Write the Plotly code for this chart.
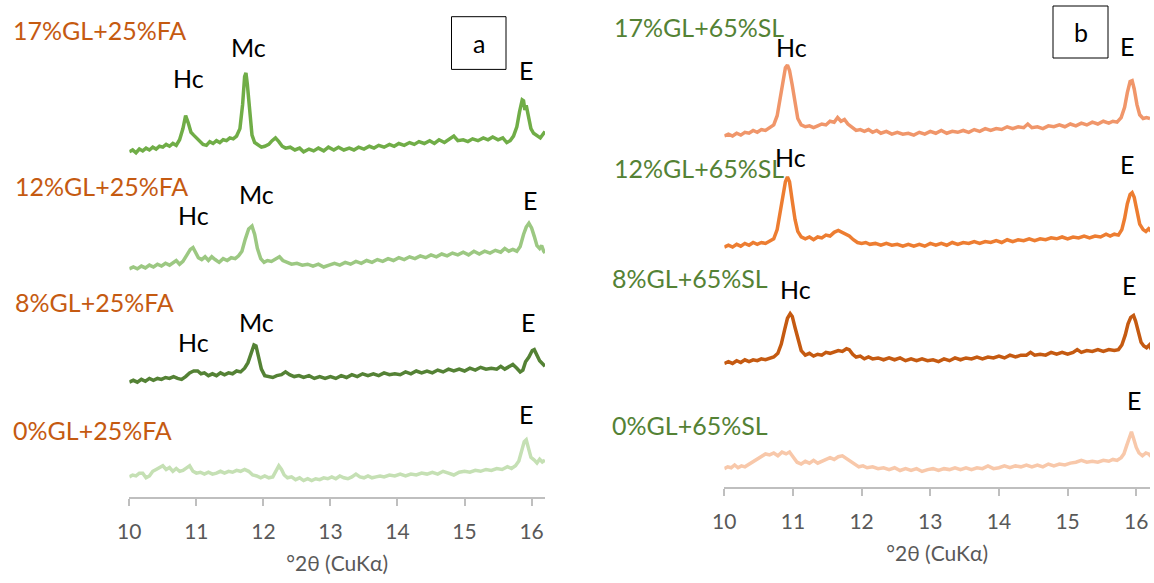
import plotly.graph_objects as go

# ---------------- Panel a (GL + 25% FA) ----------------
a1_x = [10.00,10.05,10.10,10.15,10.20,10.25,10.30,10.35,10.40,10.45,10.50,10.55,10.60,10.65,10.70,10.75,10.80,10.84,10.88,10.92,10.96,11.00,11.05,11.10,11.15,11.20,11.25,11.30,11.35,11.40,11.45,11.50,11.55,11.60,11.65,11.69,11.72,11.74,11.76,11.79,11.83,11.87,11.92,11.97,12.02,12.08,12.13,12.18,12.23,12.28,12.33,12.40,12.47,12.54,12.60,12.68,12.75,12.82,12.90,12.97,13.05,13.12,13.20,13.28,13.35,13.42,13.50,13.58,13.65,13.72,13.80,13.88,13.95,14.02,14.10,14.18,14.25,14.32,14.40,14.48,14.55,14.62,14.70,14.78,14.84,14.90,14.98,15.05,15.12,15.20,15.28,15.35,15.42,15.50,15.57,15.63,15.68,15.73,15.78,15.82,15.86,15.88,15.90,15.92,15.95,15.99,16.03,16.08,16.13,16.17,16.20]
a1_y = [334,336,333,337,335,338,336,339,337,340,339,342,340,343,341,347,359,373,365,355,352,349,346,342,341,345,343,346,344,347,346,349,348,351,359,385,415,419,407,382,352,344,341,339,340,342,346,349,345,340,338,339,336,338,334,337,335,338,335,339,336,339,336,338,336,339,337,340,338,341,339,342,340,343,341,344,342,345,343,346,343,347,344,348,351,346,347,345,348,346,349,347,350,347,349,344,346,351,361,377,390,389,379,384,375,359,354,352,349,353,356]

a2_x = [10.00,10.06,10.12,10.18,10.24,10.30,10.36,10.42,10.48,10.54,10.60,10.66,10.70,10.75,10.80,10.86,10.91,10.95,10.99,11.03,11.08,11.13,11.18,11.23,11.28,11.34,11.40,11.46,11.52,11.58,11.63,11.68,11.73,11.78,11.83,11.87,11.91,11.96,12.01,12.06,12.12,12.18,12.24,12.29,12.35,12.42,12.50,12.58,12.66,12.74,12.82,12.90,12.98,13.06,13.14,13.22,13.30,13.38,13.46,13.54,13.62,13.70,13.78,13.86,13.94,14.02,14.10,14.18,14.26,14.34,14.42,14.50,14.58,14.66,14.74,14.82,14.90,14.98,15.06,15.14,15.22,15.30,15.38,15.46,15.54,15.60,15.66,15.72,15.78,15.83,15.88,15.92,15.96,16.00,16.04,16.08,16.12,16.15,16.18,16.20]
a2_y = [220,222,220,223,221,224,222,225,223,226,224,227,229,225,228,235,241,243,237,232,230,233,229,233,230,227,231,229,232,231,234,239,252,263,266,257,242,231,227,229,228,231,233,229,227,225,226,224,225,223,225,222,224,226,224,227,225,228,226,229,227,230,228,231,229,232,230,233,231,234,232,235,233,236,234,237,235,238,235,239,236,239,237,240,238,242,239,241,239,244,257,265,269,264,255,245,242,245,239,237]

a3_x = [10.00,10.06,10.12,10.18,10.24,10.30,10.36,10.42,10.48,10.54,10.60,10.66,10.72,10.78,10.84,10.90,10.96,11.02,11.07,11.12,11.18,11.24,11.30,11.36,11.42,11.48,11.54,11.60,11.66,11.72,11.77,11.82,11.86,11.89,11.93,11.97,12.02,12.08,12.14,12.20,12.27,12.33,12.39,12.46,12.53,12.60,12.68,12.76,12.84,12.92,13.00,13.08,13.16,13.24,13.32,13.40,13.48,13.56,13.64,13.72,13.80,13.88,13.96,14.04,14.12,14.20,14.28,14.36,14.44,14.52,14.60,14.68,14.76,14.84,14.92,15.00,15.08,15.16,15.24,15.32,15.40,15.48,15.54,15.60,15.66,15.72,15.78,15.83,15.87,15.91,15.96,16.01,16.04,16.08,16.12,16.16,16.20]
a3_y = [108,110,108,111,109,112,110,112,111,113,112,114,112,111,114,118,120,120,117,118,115,117,115,118,116,118,117,120,119,123,129,139,148,147,135,122,115,114,113,115,116,119,116,114,115,113,115,112,114,112,114,112,115,113,116,114,117,115,117,115,118,116,117,116,119,117,120,118,120,118,121,119,122,120,122,120,123,121,124,122,123,122,125,122,124,127,123,119,121,130,135,142,143,137,131,128,125]

a4_x = [10.00,10.05,10.10,10.15,10.20,10.25,10.30,10.35,10.40,10.45,10.50,10.55,10.60,10.65,10.70,10.75,10.80,10.86,10.90,10.95,11.00,11.06,11.12,11.18,11.24,11.30,11.36,11.42,11.48,11.54,11.60,11.66,11.72,11.78,11.84,11.90,11.96,12.02,12.08,12.14,12.19,12.23,12.27,12.31,12.36,12.42,12.48,12.54,12.60,12.66,12.72,12.78,12.84,12.90,12.96,13.02,13.08,13.14,13.20,13.26,13.32,13.38,13.44,13.50,13.56,13.62,13.68,13.74,13.80,13.88,13.96,14.04,14.12,14.20,14.28,14.36,14.44,14.52,14.60,14.68,14.76,14.84,14.92,15.00,15.08,15.16,15.24,15.32,15.40,15.48,15.56,15.64,15.70,15.76,15.81,15.85,15.89,15.92,15.95,15.99,16.04,16.08,16.12,16.16,16.20]
a4_y = [15,17,16,19,19,14,16,21,23,25,27,23,25,21,24,21,22,25,27,21,19,20,18,20,18,19,21,19,21,20,22,21,23,21,17,16,14,16,14,15,22,27,23,17,14,15,12,14,11,13,11,13,12,14,13,15,13,16,14,13,15,18,15,14,16,14,15,16,15,17,16,18,16,18,17,19,18,20,18,21,19,17,20,21,20,22,21,23,22,24,23,26,24,27,32,42,53,55,47,36,33,30,34,31,33]

# ---------------- Panel b (GL + 65% SL) ----------------
b1_x = [10.00,10.06,10.12,10.18,10.24,10.30,10.36,10.42,10.48,10.54,10.60,10.66,10.72,10.77,10.81,10.85,10.89,10.92,10.95,10.99,11.03,11.07,11.12,11.18,11.24,11.30,11.36,11.42,11.48,11.54,11.60,11.65,11.70,11.75,11.80,11.86,11.92,11.98,12.04,12.10,12.16,12.22,12.28,12.36,12.44,12.52,12.60,12.68,12.76,12.84,12.92,13.00,13.08,13.16,13.24,13.32,13.40,13.48,13.56,13.64,13.72,13.80,13.88,13.96,14.04,14.12,14.20,14.28,14.36,14.42,14.48,14.56,14.64,14.72,14.80,14.88,14.96,15.04,15.12,15.20,15.28,15.36,15.44,15.52,15.60,15.66,15.72,15.78,15.83,15.87,15.91,15.94,15.97,16.01,16.05,16.10,16.15,16.20]
b1_y = [340,342,340,343,341,344,343,346,344,347,346,349,352,362,379,399,414,417,411,395,375,359,352,350,351,349,351,353,352,356,355,360,356,358,353,349,346,347,345,347,344,346,343,345,342,344,342,343,341,344,342,345,343,346,343,345,344,346,344,347,345,348,346,348,347,350,348,350,349,353,349,350,348,351,350,352,350,353,351,354,352,355,353,356,354,356,355,360,371,387,399,400,391,374,363,359,360,359]

b2_x = [10.00,10.06,10.12,10.18,10.24,10.30,10.36,10.42,10.48,10.54,10.60,10.66,10.72,10.77,10.81,10.85,10.89,10.92,10.95,10.99,11.03,11.07,11.12,11.18,11.24,11.30,11.36,11.42,11.48,11.54,11.60,11.66,11.71,11.76,11.82,11.88,11.94,12.00,12.06,12.12,12.20,12.28,12.36,12.44,12.52,12.60,12.68,12.76,12.84,12.92,13.00,13.08,13.16,13.24,13.32,13.40,13.48,13.56,13.64,13.72,13.80,13.88,13.96,14.04,14.12,14.20,14.28,14.36,14.44,14.52,14.60,14.68,14.76,14.84,14.92,15.00,15.08,15.16,15.24,15.32,15.40,15.48,15.56,15.62,15.68,15.74,15.79,15.83,15.87,15.91,15.94,15.97,16.01,16.05,16.10,16.14,16.18,16.22]
b2_y = [232,234,232,235,233,236,234,237,235,237,236,238,241,251,269,289,303,308,303,282,262,249,243,241,243,240,243,242,245,244,248,250,248,247,244,240,237,236,237,235,236,234,236,234,235,233,235,233,235,233,236,234,236,234,237,235,237,236,238,236,238,237,239,237,240,238,240,239,241,239,241,240,242,241,243,241,243,242,244,242,244,243,246,244,246,245,251,263,279,289,291,286,271,257,251,249,252,249]

b3_x = [10.00,10.06,10.12,10.18,10.24,10.30,10.36,10.42,10.48,10.54,10.60,10.66,10.72,10.78,10.83,10.88,10.92,10.96,10.99,11.03,11.07,11.12,11.18,11.24,11.30,11.36,11.42,11.48,11.54,11.60,11.66,11.72,11.78,11.82,11.87,11.92,11.98,12.04,12.10,12.16,12.24,12.32,12.40,12.48,12.56,12.64,12.72,12.80,12.88,12.96,13.04,13.12,13.20,13.28,13.36,13.44,13.52,13.60,13.68,13.76,13.84,13.92,14.00,14.08,14.16,14.24,14.32,14.40,14.46,14.52,14.60,14.68,14.76,14.84,14.92,15.00,15.08,15.14,15.20,15.28,15.36,15.44,15.52,15.60,15.68,15.74,15.79,15.84,15.88,15.92,15.96,15.99,16.03,16.07,16.11,16.15,16.19,16.22]
b3_y = [116,118,116,119,117,120,118,120,119,121,120,122,123,127,137,153,165,170,167,155,142,130,125,127,124,126,125,128,127,129,130,129,132,131,126,123,124,121,123,121,122,120,122,120,122,119,121,119,121,119,120,118,121,119,122,120,122,121,123,121,123,122,124,122,125,123,125,125,128,125,126,125,128,126,128,126,128,131,128,130,129,131,129,131,130,131,136,147,159,166,168,162,151,139,135,133,136,131]

b4_x = [10.00,10.05,10.10,10.15,10.20,10.25,10.30,10.36,10.42,10.48,10.54,10.60,10.66,10.72,10.78,10.84,10.90,10.95,11.00,11.06,11.12,11.18,11.24,11.30,11.36,11.42,11.48,11.54,11.60,11.66,11.72,11.78,11.84,11.90,11.96,12.02,12.08,12.16,12.24,12.32,12.40,12.48,12.56,12.64,12.72,12.80,12.88,12.96,13.04,13.12,13.20,13.28,13.36,13.44,13.52,13.60,13.68,13.76,13.84,13.92,14.00,14.08,14.16,14.24,14.32,14.40,14.48,14.56,14.64,14.72,14.80,14.88,14.96,15.04,15.12,15.20,15.28,15.36,15.44,15.52,15.60,15.66,15.72,15.78,15.82,15.86,15.90,15.93,15.96,16.00,16.04,16.09,16.14,16.18,16.22]
b4_y = [12,14,13,16,13,15,14,17,19,22,25,28,27,29,26,30,28,30,25,19,17,20,18,21,18,20,21,24,22,25,26,23,20,16,14,15,13,14,12,13,11,13,10,12,10,12,9,11,12,10,12,11,13,11,13,11,13,12,15,12,13,15,13,15,14,16,14,16,14,17,15,17,16,18,19,21,19,20,19,21,20,22,21,24,28,37,47,52,45,35,29,26,29,28,25]

# vertical stacking offsets of each pattern (a.u.)
a_offsets = [38, 26, 16, 7]
b_offsets = [41, 28.5, 18.3, 8.2]

a_names = ["17%GL+25%FA", "12%GL+25%FA", "8%GL+25%FA", "0%GL+25%FA"]
b_names = ["17%GL+65%SL", "12%GL+65%SL", "8%GL+65%SL", "0%GL+65%SL"]
a_colors = ["#70AD47", "#9CC882", "#548235", "#C5E0B4"]
b_colors = ["#F0966A", "#ED7D31", "#C55A11", "#F8C8AA"]

# peak labels: (text, x, y, pattern index)
a_peaks = [("Hc", 10.88, 414, 0), ("Mc", 11.78, 447, 0), ("E", 15.91, 422, 0),
           ("Hc", 10.96, 278, 1), ("Mc", 11.90, 301, 1), ("E", 15.97, 294, 1),
           ("Hc", 10.96, 151, 2), ("Mc", 11.90, 173, 2), ("E", 15.95, 173, 2),
           ("E", 15.92, 83, 3)]
b_peaks = [("Hc", 10.98, 436, 0), ("E", 15.87, 438, 0),
           ("Hc", 10.97, 330, 1), ("E", 15.86, 322, 1),
           ("Hc", 11.03, 197, 2), ("E", 15.90, 201, 2),
           ("E", 15.97, 86, 3)]

FONT = "Lato"
W, H = 1154, 583

fig = go.Figure()
for (xs, ys), nm, c, off in zip([(a1_x, a1_y), (a2_x, a2_y), (a3_x, a3_y), (a4_x, a4_y)], a_names, a_colors, a_offsets):
    fig.add_trace(go.Scatter(x=xs, y=[v + off for v in ys], mode="lines", name=nm, line=dict(color=c, width=3.5),
                             xaxis="x", yaxis="y", showlegend=False))
for (xs, ys), nm, c, off in zip([(b1_x, b1_y), (b2_x, b2_y), (b3_x, b3_y), (b4_x, b4_y)], b_names, b_colors, b_offsets):
    fig.add_trace(go.Scatter(x=xs, y=[v + off for v in ys], mode="lines", name=nm, line=dict(color=c, width=3.5),
                             xaxis="x2", yaxis="y2", showlegend=False))

axis_common = dict(range=[10, 16.2], dtick=1, tick0=10, showline=True, linecolor="#BFBFBF", linewidth=1.5,
                   ticks="outside", ticklen=7, tickcolor="#BFBFBF", tickwidth=1.5, showgrid=False, zeroline=False,
                   automargin=False,
                   tickfont=dict(family=FONT, size=21, color="#595959"), ticklabelstandoff=8,
                   title=dict(text="°2θ (CuKα)", font=dict(family=FONT, size=21, color="#595959"), standoff=14))

fig.update_layout(
    width=W, height=H, margin=dict(l=0, r=0, t=0, b=0, autoexpand=False),
    paper_bgcolor="white", plot_bgcolor="white",
    xaxis=dict(domain=[129.3 / W, 545 / W], anchor="y", **axis_common),
    yaxis=dict(domain=[1 - 497.3 / H, 1], range=[0, 535.5], visible=False, anchor="x", automargin=False),
    xaxis2=dict(domain=[724.3 / W, 1150 / W], anchor="y2", **axis_common),
    yaxis2=dict(domain=[1 - 487.3 / H, 1], range=[0, 528.5], visible=False, anchor="x2", automargin=False),
)

ann = []
a_label_pos = [(10.8, 30), (12.6, 186), (12.6, 301.7), (10.8, 430)]
for nm, (px, py) in zip(a_names, a_label_pos):
    ann.append(dict(text=nm, x=px / W, y=1 - py / H, xref="paper", yref="paper", xanchor="left", yanchor="middle",
                    showarrow=False, font=dict(family=FONT, size=25, color="#C55A11")))
b_label_pos = [(611.7, 26.7), (611.7, 168.4), (610, 278.3), (610, 425)]
for nm, (px, py) in zip(b_names, b_label_pos):
    ann.append(dict(text=nm, x=px / W, y=1 - py / H, xref="paper", yref="paper", xanchor="left", yanchor="middle",
                    showarrow=False, font=dict(family=FONT, size=25, color="#548235")))
for t, x, y, k in a_peaks:
    ann.append(dict(text=t, x=x, y=y + a_offsets[k], xref="x", yref="y", showarrow=False, xanchor="center",
                    yanchor="middle", font=dict(family=FONT, size=25, color="black")))
for t, x, y, k in b_peaks:
    ann.append(dict(text=t, x=x, y=y + b_offsets[k], xref="x2", yref="y2", showarrow=False, xanchor="center",
                    yanchor="middle", font=dict(family=FONT, size=25, color="black")))

# panel tags
boxes = [("a", 451.5, 16.7, 506, 69.4), ("b", 1053, 6, 1108, 58)]
shapes = []
for t, x0, y0, x1, y1 in boxes:
    shapes.append(dict(type="rect", xref="paper", yref="paper", x0=x0 / W, x1=x1 / W, y0=1 - y1 / H, y1=1 - y0 / H,
                       line=dict(color="black", width=1), fillcolor="white", layer="below"))
    ann.append(dict(text=t, x=(x0 + x1) / 2 / W, y=1 - (y0 + y1) / 2 / H, xref="paper", yref="paper",
                    showarrow=False, xanchor="center", yanchor="middle", font=dict(family=FONT, size=25, color="black")))

fig.update_layout(annotations=ann, shapes=shapes)
fig.write_html("out.html", config={"displayModeBar": False},
               post_script="document.body.style.margin='0px';document.body.style.overflow='hidden';")
